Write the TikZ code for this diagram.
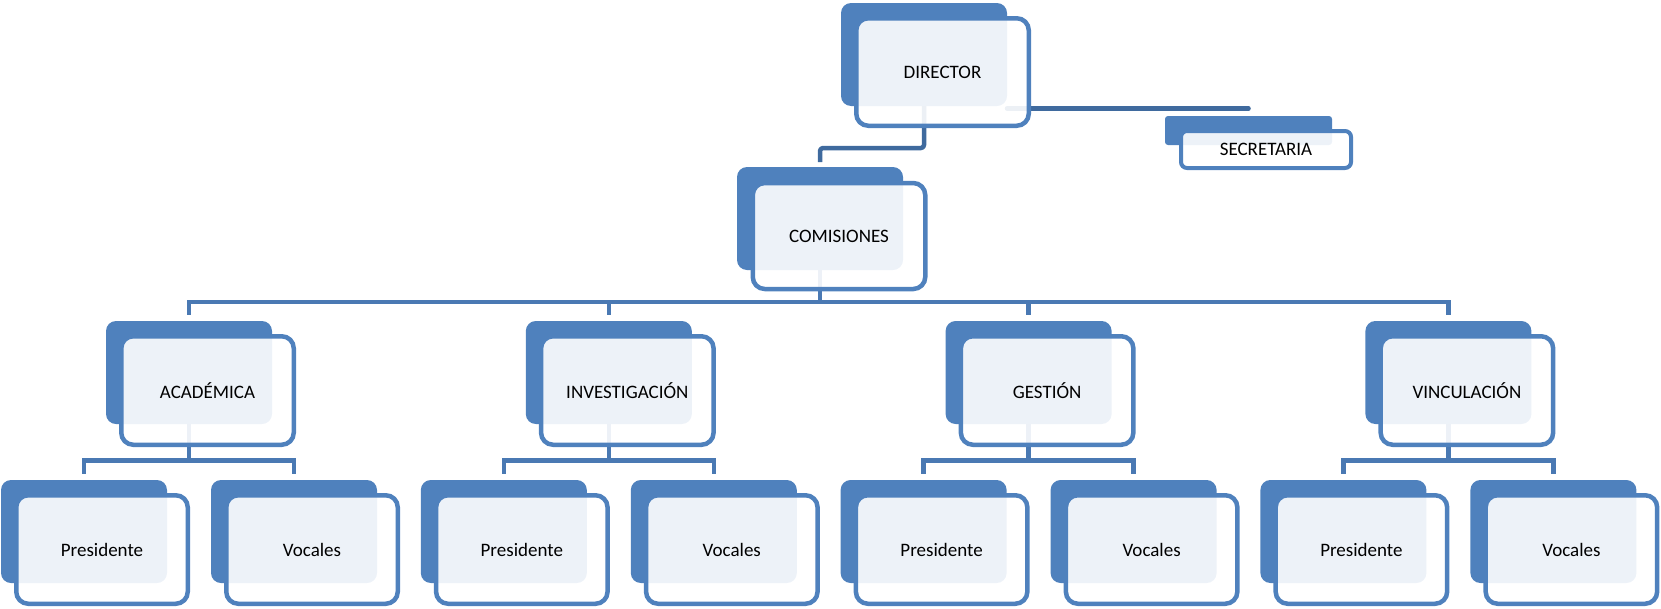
\documentclass[tikz,border=0pt]{standalone}
\usepackage{fontspec}
\setmainfont{Carlito}
\usetikzlibrary{backgrounds,calc}
\definecolor{accent}{HTML}{4F81BD}
\definecolor{conn}{HTML}{4A79B3}
\definecolor{dconn}{HTML}{3F6A9E}
\begin{document}
\begin{tikzpicture}[x=1pt,y=-1pt,
  backbox/.style={fill=accent, rounded corners=10pt, inner sep=0pt, outer sep=0pt},
  frontbox/.style={draw=accent, line width=4.5pt, fill=white, fill opacity=0.9, text opacity=1,
    rounded corners=12pt, inner sep=0pt, outer sep=0pt, font=\fontsize{19}{23}\selectfont, text=black},
  link/.style={draw=conn, line width=4.5pt, shorten >=6pt},
  dlink/.style={draw=dconn, line width=4.5pt, line join=round, rounded corners=3pt}]
\useasboundingbox (0,0) rectangle (1661,608);

% Director
\node[backbox, minimum width=166, minimum height=103] (dir-b) at (924,54.5) {};
\node[frontbox, minimum width=172.5, minimum height=107.5] (dir) at (942.5,72) {DIRECTOR};

% Secretaria
\node[backbox, rounded corners=3pt, minimum width=167, minimum height=29] (sec-b) at (1248.5,130.5) {};
\node[frontbox, line width=4pt, rounded corners=6pt, minimum width=170, minimum height=37] (sec) at (1266,149.5) {SECRETARIA};

% Comisiones
\node[backbox, minimum width=166, minimum height=103] (com-b) at (820,218.5) {};
\node[frontbox, minimum width=172.5, minimum height=106] (com) at (839,236) {COMISIONES};

% Level 2 and level 3
\foreach \k/\nm/\t in {0/aca/ACADÉMICA, 1/inv/INVESTIGACIÓN, 2/ges/GESTIÓN, 3/vin/VINCULACIÓN}{
  \pgfmathsetmacro{\bx}{106+419.8*\k}
  \pgfmathsetmacro{\px}{1+419.8*\k}
  \pgfmathsetmacro{\vx}{211+419.8*\k}
  \node[backbox, minimum width=166, minimum height=103] (\nm-b) at (\bx+83,372.5) {};
  \node[frontbox, minimum width=172.5, minimum height=108.5] (\nm) at (\bx+101.5,390.5) {\t};
  \node[backbox, minimum width=166, minimum height=103] (\nm-pb) at (\px+83,531.5) {};
  \node[frontbox, minimum width=171.5, minimum height=108.5] (\nm-p) at (\px+101,549.5) {Presidente};
  \node[backbox, minimum width=166, minimum height=103] (\nm-vb) at (\vx+83,531.5) {};
  \node[frontbox, minimum width=171.5, minimum height=108.5] (\nm-v) at (\vx+101,549.5) {Vocales};
}

% Connectors
\begin{pgfonlayer}{background}
  \coordinate (bar0) at (0,148);
  \coordinate (bar1) at (0,302);
  \coordinate (bar2) at (0,460.5);
  \coordinate (s0) at ([yshift=-2.5pt]dir-b.south east);
  \draw[dlink, shorten >=5pt] (dir-b.south) |- (bar0 -| com-b.north) -- (com-b.north);
  \draw[dlink, line cap=round] (s0) -- (s0 -| sec-b.north);
  \foreach \nm in {aca,inv,ges,vin}{
    \draw[link] (com-b.south) |- (bar1 -| \nm-b.north) -- (\nm-b.north);
    \draw[link] (\nm-b.south) |- (bar2 -| \nm-pb.north) -- (\nm-pb.north);
    \draw[link] (\nm-b.south) |- (bar2 -| \nm-vb.north) -- (\nm-vb.north);
  }
\end{pgfonlayer}
\end{tikzpicture}
\end{document}
